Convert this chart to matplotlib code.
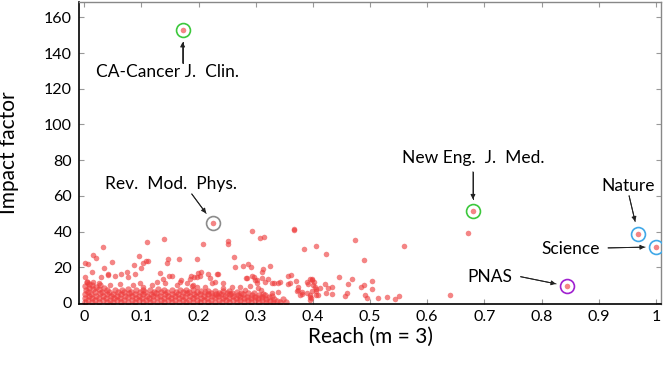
import math
import matplotlib
matplotlib.use('Agg')
from matplotlib import pyplot as plt

plt.rcParams['font.family'] = ['Lato', 'DejaVu Sans']

# dense band of journals near the bottom left (reach, impact factor)
band = [
    (0.001, 0.5), (0.002, 2.6), (0.001, 4.9), (0.003, 7.2), (0.002, 9.5), (0.004, 11.8),
    (0.007, 1.4), (0.008, 3.7), (0.006, 6.0), (0.009, 8.4), (0.008, 10.7),
    (0.013, 0.6), (0.014, 2.9), (0.012, 5.2), (0.015, 7.6), (0.013, 9.9),
    (0.019, 1.6), (0.020, 3.9), (0.018, 6.3), (0.021, 8.7),
    (0.026, 0.8), (0.025, 3.0), (0.027, 5.4), (0.026, 7.8), (0.028, 10.2),
    (0.032, 1.7), (0.033, 4.1), (0.031, 6.4), (0.034, 8.5),
    (0.039, 0.6), (0.038, 2.9), (0.040, 5.2), (0.039, 7.3),
    (0.045, 1.5), (0.046, 3.8), (0.044, 6.1),
    (0.051, 0.7), (0.052, 3.0), (0.050, 5.3), (0.053, 7.5),
    (0.058, 1.6), (0.057, 3.9), (0.059, 6.2),
    (0.064, 0.5), (0.063, 2.8), (0.065, 5.0), (0.066, 7.2),
    (0.070, 1.4), (0.071, 3.7), (0.069, 6.0),
    (0.077, 0.8), (0.076, 3.1), (0.078, 5.4), (0.077, 7.6),
    (0.083, 1.7), (0.084, 4.0), (0.082, 6.3),
    (0.089, 0.6), (0.090, 2.9), (0.088, 5.1), (0.091, 7.4),
    (0.096, 1.5), (0.095, 3.8), (0.097, 6.1),
    (0.102, 0.7), (0.101, 3.0), (0.103, 5.3), (0.102, 7.5),
    (0.108, 1.6), (0.109, 3.9), (0.107, 6.2),
    (0.115, 0.5), (0.114, 2.8), (0.116, 5.0), (0.115, 7.2),
    (0.121, 1.4), (0.120, 3.7), (0.122, 6.0),
    (0.127, 0.8), (0.128, 3.1), (0.126, 5.4), (0.129, 7.6),
    (0.134, 1.7), (0.133, 4.0), (0.135, 6.3),
    (0.140, 0.6), (0.139, 2.9), (0.141, 5.1), (0.140, 7.3),
    (0.146, 1.5), (0.147, 3.8), (0.145, 6.1),
    (0.153, 0.7), (0.152, 3.0), (0.154, 5.3), (0.153, 7.4),
    (0.159, 1.6), (0.158, 3.9), (0.160, 6.2),
    (0.165, 0.5), (0.166, 2.8), (0.164, 5.0), (0.167, 7.1),
    (0.172, 1.4), (0.171, 3.7), (0.173, 6.0),
    (0.178, 0.8), (0.177, 3.1), (0.179, 5.4), (0.178, 7.3),
    (0.184, 1.7), (0.185, 4.0), (0.183, 6.2),
    (0.191, 0.6), (0.190, 2.9), (0.192, 5.1), (0.191, 7.0),
    (0.197, 1.5), (0.196, 3.8), (0.198, 5.9),
    (0.203, 0.7), (0.204, 3.0), (0.202, 5.2), (0.205, 6.9),
    (0.210, 1.6), (0.209, 3.9), (0.211, 5.9),
    (0.216, 0.5), (0.215, 2.8), (0.217, 4.9), (0.216, 6.7),
    (0.222, 1.4), (0.223, 3.7), (0.221, 5.7),
    (0.229, 0.8), (0.228, 3.1), (0.230, 5.2), (0.229, 6.8),
    (0.235, 1.7), (0.234, 3.9), (0.236, 5.8),
    (0.241, 0.6), (0.242, 2.9), (0.240, 4.9), (0.243, 6.6),
    (0.248, 1.5), (0.247, 3.7), (0.249, 5.6),
    (0.254, 0.7), (0.253, 2.9), (0.255, 4.9), (0.254, 6.5),
    (0.260, 1.6), (0.261, 3.7), (0.259, 5.5),
    (0.267, 0.5), (0.266, 2.7), (0.268, 4.6), (0.267, 6.3),
    (0.273, 1.4), (0.272, 3.5), (0.274, 5.4),
    (0.279, 0.8), (0.280, 2.9), (0.278, 4.8),
    (0.286, 1.7), (0.285, 3.6), (0.287, 5.6),
    (0.292, 0.6), (0.291, 2.6), (0.293, 4.5),
    (0.298, 1.5), (0.299, 3.5), (0.297, 5.4),
    (0.305, 0.7), (0.304, 2.7), (0.306, 4.4),
    (0.311, 1.6), (0.310, 3.3), (0.312, 5.1),
    (0.317, 0.5), (0.318, 2.4), (0.316, 4.2),
    (0.324, 1.3), (0.323, 3.1),
    (0.330, 0.6), (0.331, 2.2), (0.329, 4.0),
    (0.337, 1.2), (0.342, 0.5), (0.348, 2.0), (0.353, 0.8),
]

# scattered journals above the band
sparse = [
    (0.001, 22.2), (0.007, 21.7), (0.016, 26.9), (0.020, 25.4), (0.032, 31.2), (0.013, 17.5),
    (0.001, 14.7), (0.034, 19.4), (0.048, 23.1), (0.042, 16.1), (0.054, 15.3), (0.065, 16.1),
    (0.074, 17.5), (0.089, 16.1), (0.109, 34.0), (0.096, 26.3), (0.100, 19.4), (0.103, 22.2),
    (0.108, 23.5), (0.112, 23.7), (0.087, 21.3), (0.139, 35.7), (0.147, 24.6), (0.144, 22.6),
    (0.166, 24.6), (0.149, 15.1), (0.153, 15.3), (0.132, 16.6), (0.137, 13.3), (0.170, 12.9),
    (0.185, 13.3), (0.198, 24.4), (0.208, 33.0), (0.202, 15.1), (0.217, 16.1), (0.232, 16.2),
    (0.251, 34.7), (0.251, 32.9), (0.262, 25.9), (0.264, 20.3), (0.278, 20.7), (0.287, 21.7),
    (0.291, 20.3), (0.293, 40.5), (0.307, 36.2), (0.315, 37.1), (0.312, 18.9), (0.310, 17.5),
    (0.324, 20.7), (0.284, 14.2), (0.296, 14.7), (0.302, 12.9), (0.310, 13.8), (0.322, 13.3),
    (0.328, 11.0), (0.342, 11.6), (0.357, 15.3), (0.361, 15.7), (0.367, 40.9), (0.384, 30.0),
    (0.406, 32.1), (0.423, 27.4), (0.370, 12.5), (0.357, 10.6), (0.374, 7.3), (0.380, 6.3),
    (0.395, 13.3), (0.401, 11.9), (0.400, 10.1), (0.406, 7.7), (0.421, 10.6), (0.434, 8.8),
    (0.446, 14.7), (0.473, 35.3), (0.490, 24.1), (0.468, 13.4), (0.462, 10.6), (0.484, 9.1),
    (0.490, 10.1), (0.503, 12.5), (0.503, 7.8), (0.423, 5.4), (0.433, 5.0), (0.459, 5.4),
    (0.491, 4.5), (0.494, 2.6), (0.514, 2.6), (0.395, 4.5), (0.397, 2.6), (0.560, 31.9),
    (0.672, 39.0), (0.640, 4.5), (0.456, 3.7), (0.529, 3.2), (0.543, 2.2), (0.551, 3.9),
    (0.389, 11.9), (0.392, 10.5), (0.399, 13.3), (0.405, 6.9), (0.398, 6.9), (0.389, 5.4),
    (0.380, 5.0), (0.394, 3.2), (0.395, 1.7), (0.406, 4.5), (0.412, 8.2), (0.186, 15.1),
    (0.192, 14.4), (0.199, 16.6), (0.204, 17.2), (0.234, 16.1), (0.188, 9.5), (0.197, 9.1),
    (0.211, 9.1), (0.220, 13.8), (0.223, 11.0), (0.229, 11.9), (0.243, 11.0), (0.243, 8.2),
    (0.258, 9.1), (0.283, 13.8), (0.293, 15.1), (0.299, 12.9), (0.302, 11.4), (0.316, 11.9),
    (0.331, 11.4), (0.338, 11.0), (0.272, 9.1), (0.281, 7.3), (0.290, 9.5), (0.304, 8.2),
    (0.309, 7.3), (0.328, 5.4), (0.339, 6.3), (0.360, 11.0), (0.372, 6.9), (0.373, 9.1),
    (0.377, 4.5), (0.398, 12.9), (0.404, 9.1), (0.409, 4.5), (0.427, 8.2), (0.367, 41.3),
    (0.004, 11.9), (0.016, 11.9), (0.025, 11.4), (0.030, 14.7), (0.042, 15.7), (0.045, 10.1),
    (0.062, 10.5), (0.077, 14.7), (0.086, 10.1), (0.097, 11.0), (0.103, 9.1), (0.118, 10.1),
    (0.127, 11.9), (0.141, 11.0), (0.162, 10.1), (0.167, 11.9), (0.179, 11.0), (0.191, 10.1),
    (0.197, 14.7),
]

# highlighted journals
journals = ['CA-Cancer J.  Clin.', 'Rev.  Mod.  Phys.', 'New Eng.  J.  Med.', 'Nature', 'Science', 'PNAS']
journal_reach = [0.172, 0.226, 0.680, 0.969, 1.0, 0.844]
journal_impact = [153.2, 44.6, 51.5, 38.5, 31.4, 9.5]
journal_colors = ['#3cc83c', '#8c8c8c', '#3cc83c', '#40a8e8', '#40a8e8', '#a020d0']

x_ticks = [0, 0.1, 0.2, 0.3, 0.4, 0.5, 0.6, 0.7, 0.8, 0.9, 1]
x_tick_labels = ['0', '0.1', '0.2', '0.3', '0.4', '0.5', '0.6', '0.7', '0.8', '0.9', '1']
y_ticks = [0, 20, 40, 60, 80, 100, 120, 140, 160]

# label offsets, arrow tail offsets (points from the journal) and arrow gap at the circle
label_offsets = [(-10.6, -30.7), (-30.5, 28.3), (0, 38.5), (-7.2, 34.9), (-61.3, -1.4), (-55.4, 6.7)]
arrow_tails = [(0, -24.3), (-15.6, 21.1), (0, 28.3), (-6.5, 27.6), (-34.3, -0.7), (-33.1, 6.7)]
arrow_gaps = [9, 9, 8.4, 9.4, 7.9, 7.9]

fig = plt.figure(figsize=(6.64, 3.65), dpi=100)
ax = fig.add_axes([0.119, 0.167, 0.877, 0.827])

ax.scatter([p[0] for p in band], [p[1] for p in band], s=21, color='#ee3b3b', alpha=0.62,
           linewidths=0, zorder=2)
ax.scatter([p[0] for p in sparse] + journal_reach, [p[1] for p in sparse] + journal_impact,
           s=16, color='#ee3b3b', alpha=0.62, linewidths=0, zorder=2)

ax.set_xlim(-0.0093, 1.0096)
ax.set_ylim(-0.6, 168.5)
ax.set_xticks(x_ticks)
ax.set_xticklabels(x_tick_labels)
ax.set_yticks(y_ticks)
ax.tick_params(direction='in', length=3.5, width=0.8, color='#999999', labelsize=11.5,
               top=True, right=True)
ax.tick_params(axis='x', pad=4)
ax.tick_params(axis='y', pad=5)

# limits are fixed now, so points can be turned into data coordinates
pt = fig.dpi / 72.0
to_data = ax.transData.inverted()
for i in range(len(journals)):
    x = journal_reach[i]
    y = journal_impact[i]
    ax.plot(x, y, 'o', ms=10, mfc='none', mec=journal_colors[i], mew=1.2, zorder=4)
    ax.annotate(journals[i], xy=(x, y), xytext=label_offsets[i], textcoords='offset points',
                ha='center', va='center', fontsize=12.5)
    tx, ty = arrow_tails[i]
    d = math.hypot(tx, ty)
    gx = tx * arrow_gaps[i] / d
    gy = ty * arrow_gaps[i] / d
    px, py = ax.transData.transform((x, y))
    tail = to_data.transform((px + tx * pt, py + ty * pt))
    tip = to_data.transform((px + gx * pt, py + gy * pt))
    ax.plot([tail[0], tip[0]], [tail[1], tip[1]], color='#222222', lw=0.7, zorder=5,
            clip_on=False)
    ax.annotate('', xy=tuple(tip), xytext=tuple(tail), annotation_clip=False,
                arrowprops=dict(arrowstyle='-|>', color='#222222', lw=0.7, mutation_scale=7,
                                shrinkA=0, shrinkB=0))

for side in ['left', 'bottom']:
    ax.spines[side].set_linewidth(1.2)
    ax.spines[side].set_color('black')
for side in ['top', 'right']:
    ax.spines[side].set_linewidth(1.0)
    ax.spines[side].set_color('#888888')

ax.set_xlabel('Reach (m = 3)', fontsize=15)
ax.set_ylabel('Impact factor', fontsize=15)
ax.xaxis.set_label_coords(0.5, -0.076)
ax.yaxis.set_label_coords(-0.103, 0.5)

fig.savefig('out.png', dpi=100)
